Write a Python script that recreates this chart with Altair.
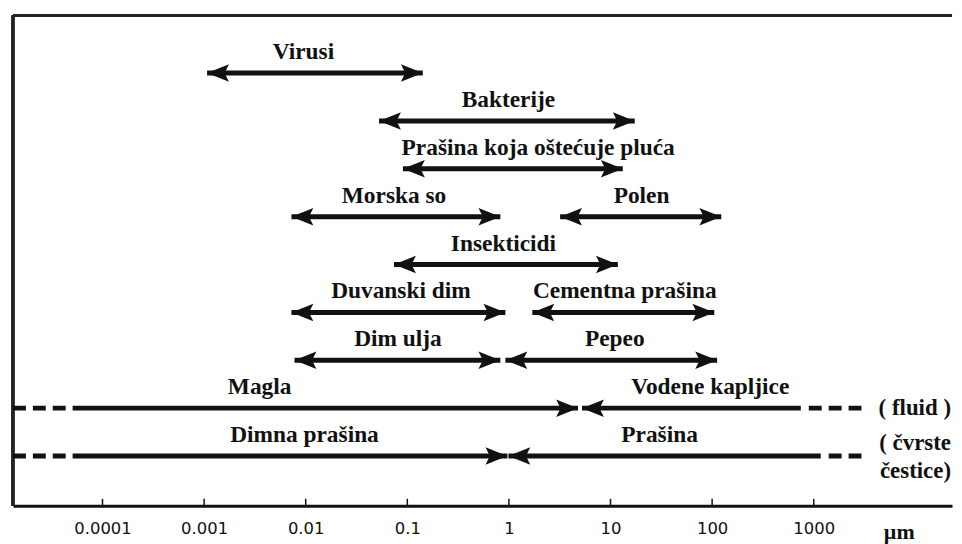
import altair as alt
import pandas as pd

# ---- data (particle sizes in micrometres) ----
arrow_label = ["Virusi", "Bakterije", "Prašina koja oštećuje pluća", "Morska so", "Polen",
               "Insekticidi", "Duvanski dim", "Cementna prašina", "Dim ulja", "Pepeo",
               "Magla", "Vodene kapljice", "Dimna prašina", "Prašina"]
arrow_row = [0, 1, 2, 3, 3, 4, 5, 5, 6, 6, 7, 7, 8, 8]
arrow_lo = [0.00107, 0.0527, 0.0906, 0.00724, 3.19, 0.074, 0.00724, 1.70, 0.00776, 0.923,
            5.08e-5, 5.24, 5.08e-5, 0.989]
arrow_hi = [0.142, 17.3, 13.2, 0.824, 123, 11.8, 0.923, 105, 0.824, 112,
            4.79, 746, 0.966, 1172]
head_lo = [1, 1, 1, 1, 1, 1, 1, 1, 1, 1, 0, 1, 0, 1]
head_hi = [1, 1, 1, 1, 1, 1, 1, 1, 1, 1, 1, 0, 1, 0]
label_x = [0.0095, 0.989, 1.94, 0.074, 20.2, 0.883, 0.0865, 13.8, 0.0809, 11.0,
           0.00352, 95.9, 0.00973, 30.4]

dash_row = [7, 7, 8, 8]
dash_lo = [1.315e-5, 894, 1.315e-5, 1403]
dash_hi = [4.44e-5, 2951, 4.44e-5, 2951]

side_text = ["( fluid )", "( čvrste", "čestice)"]
side_row = [7.0, 7.73, 8.31]
side_x = [22440, 22440, 22440]

unit_text = ["µm"]
unit_x = [6950]
unit_row = [9.725]

tick_values = [0.0001, 0.001, 0.01, 0.1, 1, 10, 100, 1000]
tick_labels = ["0.0001", "0.001", "0.01", "0.1", "1", "10", "100", "1000"]

x_domain = [1.315e-5, 22960]
y_domain = [-1.205, 9.04]

W, H = 944, 493
INK = "#111111"

arrows = pd.DataFrame({"label": arrow_label, "row": arrow_row, "lo": arrow_lo, "hi": arrow_hi,
                       "hlo": head_lo, "hhi": head_hi, "lx": label_x})
left_heads = arrows[arrows.hlo == 1][["row", "lo"]].rename(columns={"lo": "x"})
right_heads = arrows[arrows.hhi == 1][["row", "hi"]].rename(columns={"hi": "x"})
dashes = pd.DataFrame({"row": dash_row, "lo": dash_lo, "hi": dash_hi})
side = pd.DataFrame({"t": side_text, "row": side_row, "x": side_x})
unit = pd.DataFrame({"t": unit_text, "row": unit_row, "x": unit_x})
ticks = pd.DataFrame({"v": tick_values})

label_arr = "[" + ",".join("'%s'" % s for s in tick_labels) + "]"
xscale = alt.Scale(type="log", domain=x_domain, nice=False)
yscale = alt.Scale(domain=y_domain, reverse=True, nice=False, zero=False)
xaxis = alt.Axis(values=tick_values,
                 labelExpr=label_arr + "[round(log(datum.value)/LN10)+4]",
                 ticks=False, tickSize=0, grid=False, domain=True, domainColor=INK,
                 domainWidth=3, labelFont="DejaVu Sans", labelFontSize=16.5,
                 labelColor=INK, labelPadding=23, labelBaseline="middle",
                 labelFlush=False, labelOverlap=False, title=None)


def X(field):
    return alt.X(field, type="quantitative", scale=xscale, axis=xaxis)


def Y(field):
    return alt.Y(field, type="quantitative", scale=yscale, axis=None)


shafts = alt.Chart(arrows).mark_rule(color=INK, strokeWidth=5, strokeCap="butt").encode(
    x=X("lo"), x2="hi", y=Y("row"))

dashed = alt.Chart(dashes).mark_rule(color=INK, strokeWidth=5, strokeCap="butt",
                                     strokeDash=[13, 7]).encode(
    x=X("lo"), x2="hi", y=Y("row"))

RIGHT = "M0,0L-2,-0.8L-1.6,0L-2,0.8Z"
LEFT = "M0,0L2,-0.8L1.6,0L2,0.8Z"

rheads = alt.Chart(right_heads).mark_point(shape=RIGHT, filled=True, size=484, color=INK,
                                           opacity=1, strokeWidth=0).encode(
    x=X("x"), y=Y("row"))
lheads = alt.Chart(left_heads).mark_point(shape=LEFT, filled=True, size=484, color=INK,
                                          opacity=1, strokeWidth=0).encode(
    x=X("x"), y=Y("row"))

labels = alt.Chart(arrows).mark_text(font="Liberation Serif", fontWeight="bold", fontSize=23.5,
                                     color=INK, dy=-21, baseline="middle", align="center").encode(
    x=X("lx"), y=Y("row"), text="label")

side_labels = alt.Chart(side).mark_text(font="Liberation Serif", fontWeight="bold", fontSize=23,
                                        color=INK, baseline="middle", align="right").encode(
    x=X("x"), y=Y("row"), text="t")

unit_label = alt.Chart(unit).mark_text(font="Liberation Serif", fontWeight="bold", fontSize=22,
                                       color=INK, baseline="alphabetic", align="center").encode(
    x=X("x"), y=Y("row"), text="t")

tick_marks = alt.Chart(ticks).mark_rule(color=INK, strokeWidth=1.5).encode(
    x=X("v"), y=alt.value(H - 7), y2=alt.value(H))

top_border = alt.Chart(ticks).mark_rule(color="#222222", strokeWidth=2.5).encode(
    x=alt.value(0), x2=alt.value(W), y=alt.value(0))
left_border = alt.Chart(ticks).mark_rule(color="#222222", strokeWidth=2.5).encode(
    x=alt.value(0), y=alt.value(0), y2=alt.value(H))

chart = alt.layer(
    top_border, left_border, tick_marks, dashed, shafts, lheads, rheads,
    labels, side_labels, unit_label
).properties(
    width=W, height=H,
    padding={"left": 2, "top": 4, "right": 0, "bottom": 0},
    background="white",
).configure_view(stroke=None)

chart.save("out.html", embed_options={"renderer": "svg", "actions": False})
